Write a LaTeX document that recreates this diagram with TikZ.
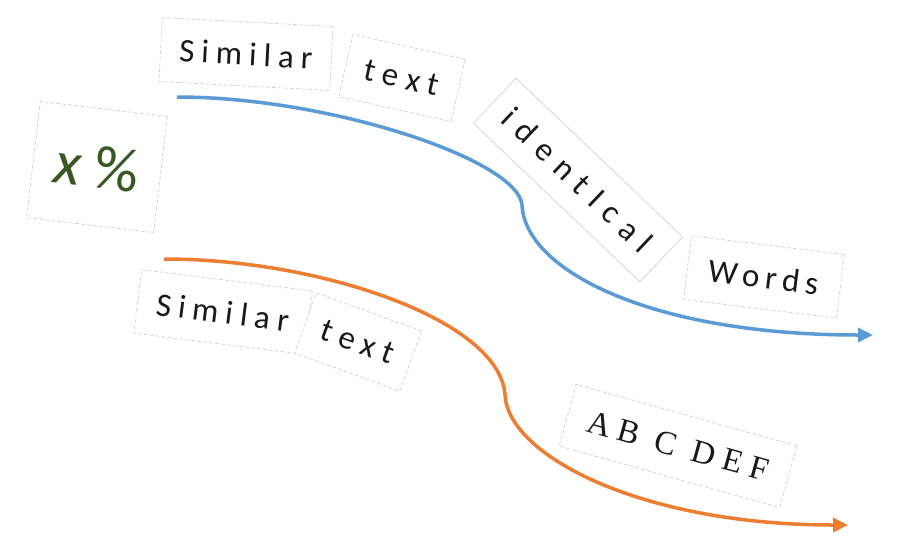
\documentclass[tikz,border=0pt]{standalone}
\usepackage{fontspec}
\setmainfont{Carlito}
\newfontfamily\serfont{Liberation Serif}
\usetikzlibrary{arrows.meta}
\definecolor{flowblue}{HTML}{5B9BD5}
\definecolor{floworange}{HTML}{ED7D31}
\definecolor{pctgreen}{HTML}{385723}
\begin{document}
\begin{tikzpicture}[x=1pt,y=-1pt,
  wordbox/.style={draw=gray!40, dash pattern=on 4pt off 2pt, line width=0.6pt, fill=white,
    minimum height=64pt, inner sep=0pt, text=black!90},
  sp/.style={font=\fontsize{33}{36}\selectfont\addfontfeature{LetterSpace=#1}},
  flow/.style={line width=3.5pt, -{Triangle[length=15pt,width=14pt]}},
]
\useasboundingbox (0,0) rectangle (900,550);
% boxes
\node[wordbox, sp=21, minimum width=171pt, rotate=-3] (sim1) at (246,54) {Similar};
\node[wordbox, sp=24, minimum width=115pt, rotate=-12.6] (txt1) at (402,78) {text};
\node[wordbox, sp=30, solid, minimum width=230pt, minimum height=62pt, rotate=-43.6] (ident) at (578,180) {identIcal};
\node[wordbox, sp=18, minimum width=154pt, rotate=-7] (words) at (764,277) {Words};
\node[wordbox, minimum width=128pt, minimum height=117pt, rotate=-6.75, text=pctgreen,
  font=\fontsize{62}{70}\selectfont] (pct) at (97,167) {\itshape x\upshape\ \%};
\node[wordbox, sp=21, minimum width=172pt, rotate=-7.1] (sim2) at (223,312) {Similar};
\node[wordbox, sp=24, minimum width=112pt, rotate=-20] (txt2) at (358,342) {text};
\node[wordbox, minimum width=229pt, rotate=-15.6,
  font=\serfont\fontsize{33}{36}\selectfont\addfontfeature{LetterSpace=24}] (abc) at (678,446) {AB C DEF};
% flows
\coordinate (bs) at (177,97);
\coordinate (bk) at (522,205);
\coordinate (be) at (873,335);
\coordinate (os) at (164,259);
\coordinate (ok) at (505,395);
\coordinate (oe) at (848,525);
\draw[flow, flowblue] (bs) .. controls (330,97) and (518,160) .. (bk)
  .. controls (525,270) and (650,335) .. (be);
\draw[flow, floworange] (os) .. controls (320,259) and (500,320) .. (ok)
  .. controls (508,455) and (640,525) .. (oe);
\end{tikzpicture}
\end{document}
